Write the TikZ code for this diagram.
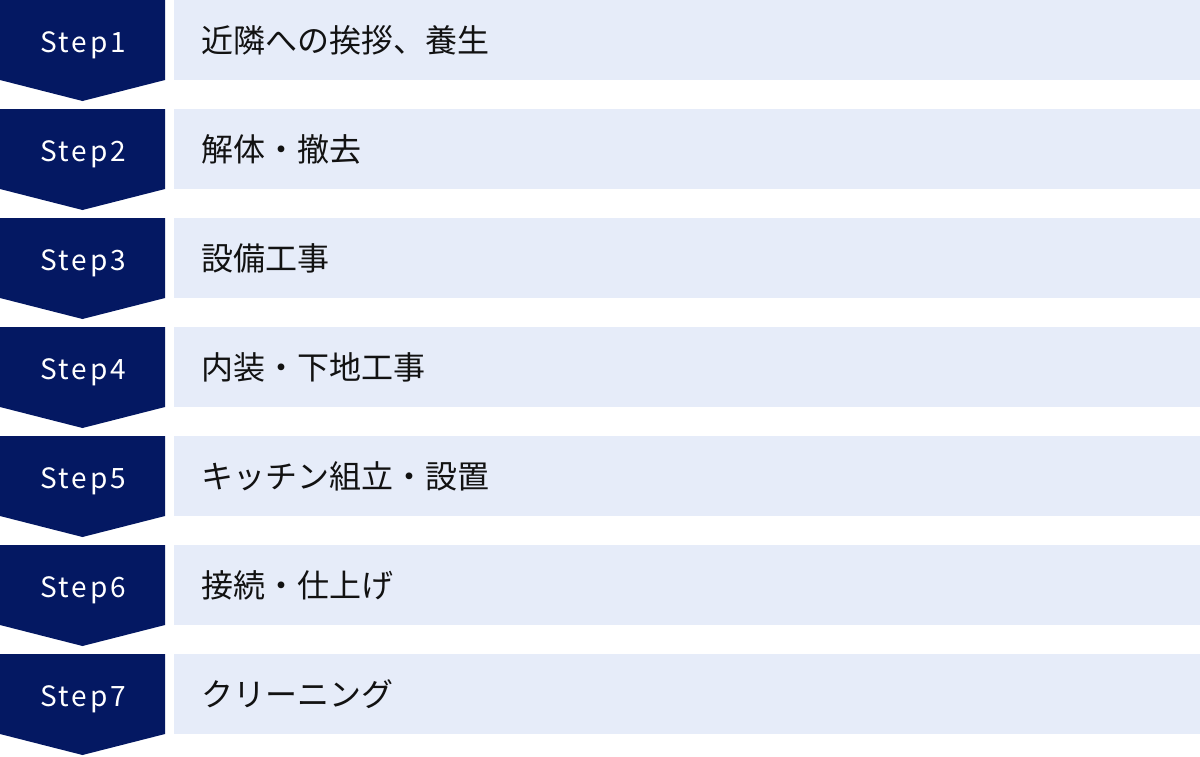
\documentclass[tikz,border=0pt]{standalone}
\usepackage{fontspec}
\newfontfamily\jpfont{Noto Sans CJK JP}
\newfontfamily\labelfont[LetterSpace=10]{Noto Sans CJK JP}
\definecolor{stepnavy}{HTML}{041862}
\definecolor{barblue}{HTML}{E6ECF9}
\tikzset{
  steplabel/.style={text=white, anchor=base, inner sep=0pt, font=\labelfont\fontsize{28}{32}\selectfont},
  taskbar/.style={fill=barblue, anchor=north west, minimum height=80pt, inner xsep=27pt, inner ysep=0pt,
    text width=972pt, align=left, text=black!93, font=\jpfont\fontsize{32}{38}\selectfont}
}
\begin{document}
\begin{tikzpicture}[x=1pt,y=-1pt]
            \def \pitch {109}
            \useasboundingbox (0,0) rectangle (1200,756);
            \foreach \s/\A in {1/近隣への挨拶、養生,2/解体・撤去,3/設備工事,4/内装・下地工事,5/キッチン組立・設置,6/接続・仕上げ,7/クリーニング}
            {
              \fill[stepnavy] (0,{\pitch*(\s-1)}) -- ++(165,0) -- ++(0,80) -- ++(-82.5,21) -- ++(-82.5,-21) -- cycle;
              \node[steplabel] (step\s) at (83,{\pitch*(\s-1)+52}) {Step\s};
              \node[taskbar] (task\s) at (174,{\pitch*(\s-1)}) {\A};
            }
            \end{tikzpicture}
\end{document}
